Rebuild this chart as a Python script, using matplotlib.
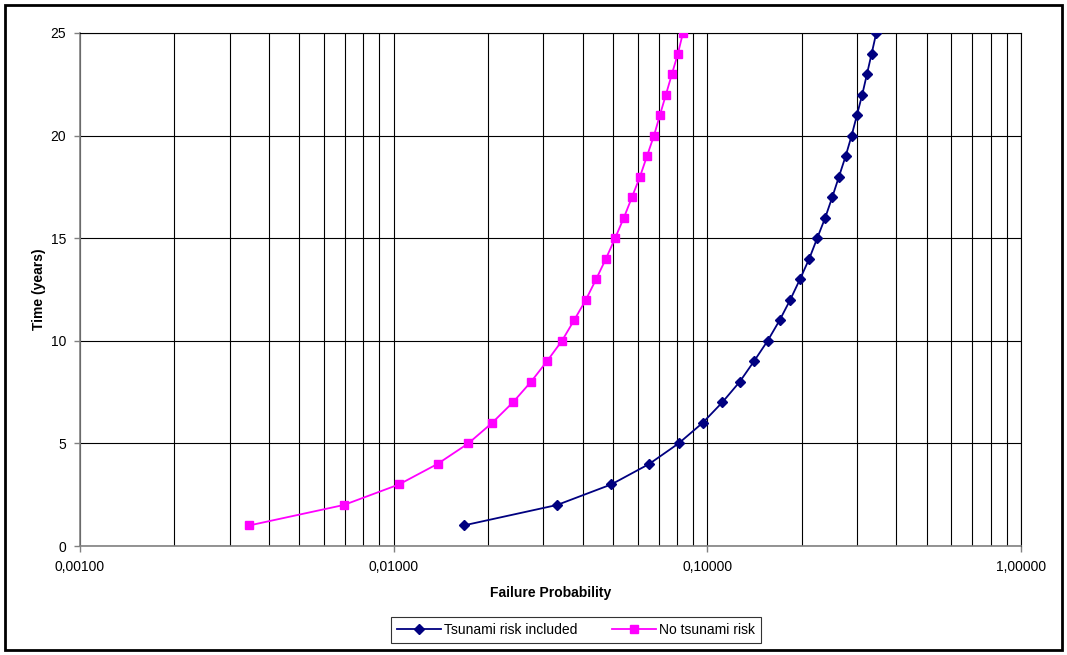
import matplotlib
matplotlib.use("Agg")
import matplotlib.pyplot as plt
from matplotlib.patches import Rectangle
from matplotlib.ticker import FixedLocator, FuncFormatter, LogLocator, NullFormatter

plt.rcParams['font.family'] = ['Liberation Sans', 'DejaVu Sans']

years = list(range(1, 26))
tsunami_included = [0.0167, 0.0332, 0.0494, 0.0653, 0.0810, 0.0966, 0.1116, 0.1268,
                    0.1408, 0.1557, 0.1700, 0.1838, 0.1974, 0.2113, 0.2240, 0.2376,
                    0.2502, 0.2628, 0.2760, 0.2884, 0.2999, 0.3118, 0.3228, 0.3341,
                    0.3456]
no_tsunami = [0.00346, 0.00694, 0.0104, 0.0138, 0.0173, 0.0206, 0.0240, 0.0274,
              0.0308, 0.0344, 0.0376, 0.0410, 0.0442, 0.0475, 0.0508, 0.0542,
              0.0575, 0.0610, 0.0642, 0.0676, 0.0706, 0.0738, 0.0771, 0.0806,
              0.0836]
x_ticks = [0.001, 0.01, 0.1, 1.0]
y_ticks = [0, 5, 10, 15, 20, 25]

W, H = 1067, 655
fig = plt.figure(figsize=(W / 100, H / 100), dpi=100)
ax = fig.add_axes([80 / W, (H - 546) / H, (1021 - 80) / W, (546 - 33) / H])

ax.set_xscale('log')
ax.set_xlim(0.001, 1.0)
ax.set_ylim(0, 25)

ax.xaxis.set_major_locator(FixedLocator(x_ticks))
ax.xaxis.set_minor_locator(LogLocator(base=10, subs=range(2, 10)))
ax.xaxis.set_minor_formatter(NullFormatter())
ax.xaxis.set_major_formatter(FuncFormatter(lambda v, p: f"{v:.5f}".replace('.', ',')))
ax.yaxis.set_major_locator(FixedLocator(y_ticks))

ax.grid(True, which='both', axis='x', color='black', linewidth=0.8)
ax.grid(True, which='major', axis='y', color='black', linewidth=0.8)
ax.set_axisbelow(True)

for side in ('top', 'right'):
    ax.spines[side].set_color('black')
    ax.spines[side].set_linewidth(0.8)
for side in ('left', 'bottom'):
    ax.spines[side].set_color('#808080')
    ax.spines[side].set_linewidth(1.2)

ax.tick_params(axis='both', which='major', direction='out', length=4, width=1,
               color='#808080', labelsize=10, pad=6)
ax.tick_params(axis='x', which='minor', length=0)
ax.tick_params(axis='x', which='major', pad=6)

ax.plot(tsunami_included, years, color='#000080', linewidth=1.3, marker='D',
        markersize=5, markeredgecolor='#000080', markerfacecolor='#000080',
        label='Tsunami risk included', zorder=3)
ax.plot(no_tsunami, years, color='#FF00FF', linewidth=1.3, marker='s',
        markersize=6, markeredgecolor='#FF00FF', markerfacecolor='#FF00FF',
        label='No tsunami risk', zorder=3)

ax.set_xlabel('Failure Probability', fontsize=10, fontweight='bold', labelpad=9)
ax.set_ylabel('Time (years)', fontsize=10, fontweight='bold', labelpad=3)

leg = fig.legend(loc='center', bbox_to_anchor=(576 / W, (H - 630) / H), ncol=2,
                 fontsize=10, frameon=True, fancybox=False, edgecolor='black',
                 handlelength=3.2, handletextpad=0.2, columnspacing=2.5,
                 borderpad=0.4)
leg.get_frame().set_linewidth(0.8)

fig.patches.append(Rectangle((5 / W, 5 / H), (1062 - 5) / W, (650 - 5) / H,
                             transform=fig.transFigure, fill=False,
                             edgecolor='black', linewidth=2))

fig.savefig('out.png', dpi=100, facecolor='white')
